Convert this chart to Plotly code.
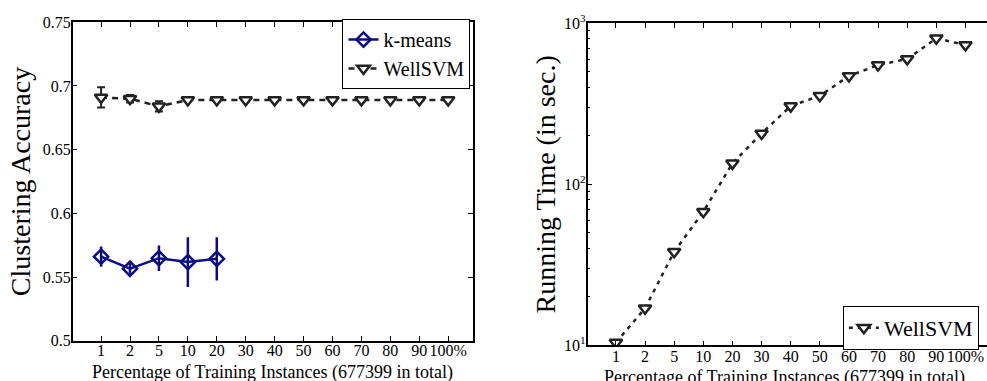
import plotly.graph_objects as go

x_labels = ['1', '2', '5', '10', '20', '30', '40', '50', '60', '70', '80', '90', '100%']

kmeans_acc = [0.566, 0.5565, 0.5648, 0.5617, 0.5643]
kmeans_err = [0.008, 0.006, 0.010, 0.0195, 0.017]

wellsvm_acc = [0.691, 0.690, 0.684, 0.689, 0.689, 0.689, 0.689, 0.689, 0.689, 0.689, 0.689, 0.689, 0.689]
wellsvm_err = [0.008, 0.003, 0.004, 0.001, 0.001, 0.001, 0.001, 0.001, 0.001, 0.001, 0.001, 0.001, 0.001]

wellsvm_time = [10.4, 17.0, 38.1, 67.6, 135, 207, 306, 355, 471, 551, 600, 807, 733]

x_title = "Percentage of Training Instances (677399 in total)"

FONT = "'Times New Roman', 'Liberation Serif', Times, serif"
NAVY = "#0c0c84"
DARK = "#222222"

fig = go.Figure()

fig.add_trace(go.Scatter(
    x=x_labels[:len(kmeans_acc)], y=kmeans_acc, name="k-means",
    mode="lines+markers",
    line=dict(color=NAVY, width=2.5),
    marker=dict(symbol="diamond-open", size=11, color=NAVY, line=dict(width=2.5, color=NAVY)),
    error_y=dict(type="data", array=kmeans_err, color=NAVY, thickness=2.5, width=0),
    xaxis="x", yaxis="y", legend="legend",
))
fig.add_trace(go.Scatter(
    x=x_labels, y=wellsvm_acc, name="WellSVM",
    mode="lines+markers",
    line=dict(color=DARK, width=2.5, dash="6px,5px"),
    marker=dict(symbol="triangle-down", size=11, color="white", line=dict(width=2.5, color=DARK)),
    error_y=dict(type="data", array=wellsvm_err, color=DARK, thickness=2, width=4),
    xaxis="x", yaxis="y", legend="legend",
))
fig.add_trace(go.Scatter(
    x=x_labels, y=wellsvm_time, name="WellSVM",
    mode="lines+markers",
    line=dict(color=DARK, width=2.5, dash="4px,5px"),
    marker=dict(symbol="triangle-down", size=11, color="white", line=dict(width=2.5, color=DARK)),
    xaxis="x2", yaxis="y2", legend="legend2",
))

axis_common = dict(
    showline=True, linecolor="black", linewidth=1.5,
    ticks="inside", ticklen=5, tickcolor="black", tickwidth=1,
    showgrid=False, zeroline=False, automargin=False,
    tickfont=dict(family=FONT, size=16, color="black"),
)

fig.update_layout(
    width=987, height=381,
    margin=dict(l=0, r=0, t=0, b=0),
    paper_bgcolor="white", plot_bgcolor="white",
    font=dict(family=FONT, color="black"),
    xaxis=dict(
        domain=[0.0737, 0.479], anchor="y", type="category",
        categoryorder="array", categoryarray=x_labels,
        range=[-0.98, 12.85], mirror="ticks", tickangle=0,
        ticklabelstandoff=-6, ticklabeloverflow="allow",
        **axis_common,
    ),
    yaxis=dict(
        domain=[0.1058, 0.9415], anchor="x", range=[0.5, 0.75],
        tickvals=[0.5, 0.55, 0.6, 0.65, 0.7, 0.75],
        ticktext=["0.5", "0.55", "0.6", "0.65", "0.7", "0.75"],
        mirror="ticks", ticklabelstandoff=-3,
        title=dict(text="Clustering Accuracy", font=dict(family=FONT, size=28), standoff=4),
        **axis_common,
    ),
    xaxis2=dict(
        domain=[0.5954, 1.0], anchor="y2", type="category",
        categoryorder="array", categoryarray=x_labels,
        range=[-0.97, 12.74], mirror="ticks", tickangle=0,
        ticklabelstandoff=-4, ticklabeloverflow="allow",
        **axis_common,
    ),
    yaxis2=dict(
        domain=[0.0936, 0.9388], anchor="x2", type="log", range=[1, 3],
        tickvals=[10, 100, 1000],
        ticktext=["10<sup>1</sup>", "10<sup>2</sup>", "10<sup>3</sup>"],
        minor=dict(tickvals=[20, 30, 40, 50, 60, 70, 80, 90, 200, 300, 400, 500, 600, 700, 800, 900],
                   ticks="inside", ticklen=3, tickcolor="black", showgrid=False),
        ticklabelstandoff=-3,
        title=dict(text="Running Time (in sec.)", font=dict(family=FONT, size=28), standoff=0),
        **axis_common,
    ),
    annotations=[
        dict(text=x_title, xref="paper", yref="paper", x=0.2763, y=(381 - 372) / 381,
             xanchor="center", yanchor="middle", showarrow=False,
             font=dict(family=FONT, size=18, color="black")),
        dict(text=x_title, xref="paper", yref="paper", x=0.795, y=(381 - 377) / 381,
             xanchor="center", yanchor="middle", showarrow=False,
             font=dict(family=FONT, size=18, color="black")),
    ],
    legend=dict(
        x=0.347, y=0.95, xanchor="left", yanchor="top",
        bgcolor="white", bordercolor="black", borderwidth=1,
        font=dict(family=FONT, size=20, color="black"),
        itemwidth=30, tracegroupgap=0, itemclick=False,
    ),
    legend2=dict(
        x=0.854, y=0.197, xanchor="left", yanchor="top",
        bgcolor="white", bordercolor="black", borderwidth=1,
        font=dict(family=FONT, size=22, color="black"),
        itemwidth=30, itemclick=False,
    ),
)

fig.write_html("out.html",
               config={"displayModeBar": False},
               post_script="document.body.style.margin='0';document.body.style.overflow='hidden';")
